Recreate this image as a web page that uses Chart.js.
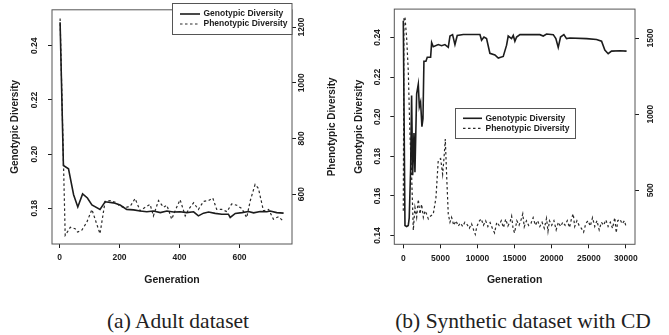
<!DOCTYPE html>
<html>
<head>
<meta charset="utf-8">
<script src="https://cdn.jsdelivr.net/npm/chart.js@4"></script>
<style>
html, body { margin: 0; padding: 0; background: #fff; overflow: hidden; }
#wrap { position: relative; width: 669px; height: 335px; overflow: hidden; }
canvas { position: absolute; top: 0; }
.cap { position: absolute; font-family: "Liberation Serif", serif; font-size: 21.5px; color: #222;
       white-space: nowrap; transform: translateX(-50%); line-height: 1; }
</style>
</head>
<body>
<div id="wrap">
  <canvas id="adultChart" width="340" height="300" style="left:0"></canvas>
  <canvas id="synthChart" width="340" height="300" style="left:340px"></canvas>
  <div class="cap" style="left:178px; top:311px">(a) Adult dataset</div>
  <div class="cap" style="left:523px; top:311px">(b) Synthetic dataset with CD</div>
</div>
<script>
const seriesLabels = ["Genotypic Diversity", "Phenotypic Diversity"];

// (a) Adult dataset
const adultGenoGen = [2, 13, 30, 47, 61, 77, 93, 108, 135, 152,
    180, 202, 224, 247, 269, 291, 313, 336, 358, 380,
    402, 424, 447, 463, 480, 497, 519, 541, 563, 569,
    586, 608, 630, 647, 669, 691, 702, 724, 747];
const adultGeno = [0.2487, 0.1958, 0.1946, 0.1850, 0.1805, 0.1853, 0.1838, 0.1812, 0.1796, 0.1824,
    0.1820, 0.1812, 0.1796, 0.1794, 0.1790, 0.1787, 0.1790, 0.1784, 0.1790, 0.1786,
    0.1787, 0.1784, 0.1787, 0.1772, 0.1782, 0.1786, 0.1781, 0.1778, 0.1778, 0.1766,
    0.1781, 0.1784, 0.1788, 0.1783, 0.1788, 0.1787, 0.1790, 0.1784, 0.1782];
const adultPhenoGen = [2, 19, 36, 52, 60, 74, 91, 108, 124, 135,
    152, 169, 186, 202, 219, 236, 252, 269, 286, 302,
    313, 330, 347, 358, 374, 386, 402, 419, 430, 447,
    463, 480, 497, 511, 524, 541, 558, 574, 591, 608,
    624, 636, 652, 663, 680, 697, 713, 730, 744];
const adultPheno = [1231, 452, 481, 476, 464, 470, 499, 545, 493, 458,
    574, 577, 571, 557, 551, 557, 584, 540, 553, 563,
    522, 577, 553, 560, 510, 542, 580, 522, 545, 569,
    545, 574, 577, 586, 545, 545, 537, 565, 560, 548,
    516, 577, 635, 621, 540, 545, 510, 519, 505];
const adultXTicks = [0, 200, 400, 600];
const adultGenoTicks = [0.18, 0.20, 0.22, 0.24];
const adultPhenoTicks = [600, 800, 1000, 1200];

// (b) Synthetic dataset with CD
const synthGenoGen = [0, 90, 225, 450, 670, 800, 990, 1120, 1260, 1440,
    1570, 1800, 2020, 2160, 2330, 2510, 2650, 2780, 3050, 3230,
    3680, 3820, 4040, 4710, 5160, 5610, 6060, 6290, 6640, 6960,
    7270, 8080, 10330, 10550, 10870, 11220, 11670, 12350, 12800, 13470,
    13920, 14140, 14590, 14820, 15040, 15270, 15720, 16160, 18410, 18860,
    19310, 20210, 20560, 20880, 21190, 21640, 22000, 22450, 24700, 26040,
    26720, 27160, 27610, 28060, 29190, 30090];
const synthGeno = [0.2484, 0.2484, 0.1451, 0.1446, 0.1451, 0.1490, 0.1740, 0.2107, 0.1705, 0.1918,
    0.1720, 0.2115, 0.2164, 0.2050, 0.2074, 0.1950, 0.1990, 0.2280, 0.2280, 0.2300,
    0.2300, 0.2374, 0.2353, 0.2364, 0.2358, 0.2364, 0.2350, 0.2407, 0.2414, 0.2364,
    0.2410, 0.2415, 0.2415, 0.2386, 0.2402, 0.2394, 0.2320, 0.2312, 0.2296, 0.2304,
    0.2361, 0.2407, 0.2394, 0.2410, 0.2381, 0.2402, 0.2414, 0.2414, 0.2414, 0.2407,
    0.2417, 0.2414, 0.2394, 0.2350, 0.2402, 0.2414, 0.2394, 0.2397, 0.2394, 0.2390,
    0.2381, 0.2336, 0.2318, 0.2331, 0.2333, 0.2331];
const synthPhenoGen = [0, 90, 225, 450, 670, 900, 1120, 1350, 1570, 1800,
    2020, 2250, 2470, 2700, 2920, 3140, 3370, 3590, 4040, 4400,
    4710, 5030, 5300, 5480, 5660, 5840, 6060, 6290, 6510, 6800,
    7100, 7400, 7700, 8000, 8300, 8600, 8900, 9200, 9500, 9700,
    9900, 10200, 10500, 10800, 11100, 11400, 11700, 12000, 12300, 12600,
    12900, 13200, 13500, 13800, 14100, 14400, 14600, 14800, 15000, 15300,
    15600, 15900, 16100, 16300, 16600, 16900, 17200, 17500, 17800, 18100,
    18400, 18700, 19000, 19300, 19500, 19700, 20000, 20300, 20600, 20900,
    21200, 21500, 21800, 22100, 22400, 22700, 22900, 23100, 23400, 23700,
    24000, 24300, 24600, 24900, 25200, 25500, 25800, 26100, 26400, 26700,
    27000, 27300, 27600, 27900, 28200, 28500, 28700, 28900, 29200, 29500,
    29800, 30000];
const synthPheno = [365, 1628, 1639, 1500, 1286, 857, 600, 237, 387, 322,
    440, 344, 408, 322, 365, 344, 312, 327, 344, 451,
    697, 708, 605, 708, 836, 600, 344, 290, 322, 270,
    300, 265, 285, 262, 290, 275, 250, 280, 236, 210,
    260, 295, 312, 270, 300, 262, 288, 250, 220, 290,
    270, 300, 255, 310, 265, 295, 330, 245, 220, 300,
    270, 310, 345, 260, 300, 268, 282, 320, 270, 300,
    262, 290, 250, 315, 230, 300, 270, 300, 240, 290,
    262, 290, 270, 300, 255, 320, 345, 262, 300, 268,
    250, 225, 282, 300, 265, 320, 262, 300, 240, 290,
    270, 305, 262, 290, 250, 320, 220, 300, 310, 280,
    300, 265];
const synthXTicks = [0, 5000, 10000, 15000, 20000, 25000, 30000];
const synthGenoTicks = [0.14, 0.16, 0.18, 0.20, 0.22, 0.24];
const synthPhenoTicks = [500, 1000, 1500];

const ink = "#1c1c1c";
Chart.defaults.font.family = "'Liberation Sans', Arial, sans-serif";
Chart.defaults.font.weight = "bold";
Chart.defaults.color = ink;

function points(xs, ys) {
    return xs.map((x, i) => ({ x: x, y: ys[i] }));
}
function fixTicks(values) {
    return scale => { scale.ticks = values.map(v => ({ value: v })); };
}

// R style box, boxed legend and right axis title (reads bottom to top)
const framePlugin = {
    id: "frame",
    afterDraw(chart, args, opts) {
        const ctx = chart.ctx, a = chart.chartArea;
        ctx.save();
        ctx.strokeStyle = "#555";
        ctx.lineWidth = 1;
        ctx.strokeRect(a.left, a.top, a.right - a.left, a.bottom - a.top);

        const L = opts.legend;
        ctx.fillStyle = "#fff";
        ctx.fillRect(L.x, L.y, L.w, L.h);
        ctx.strokeRect(L.x, L.y, L.w, L.h);
        ctx.font = "bold 8.5px 'Liberation Sans'";
        ctx.textBaseline = "middle";
        ctx.textAlign = "left";
        chart.data.datasets.forEach((ds, i) => {
            const y = L.rowY[i];
            ctx.strokeStyle = ds.borderColor;
            ctx.lineWidth = ds.borderWidth;
            ctx.setLineDash(ds.borderDash || []);
            ctx.beginPath();
            ctx.moveTo(L.lineX[0], y);
            ctx.lineTo(L.lineX[1], y);
            ctx.stroke();
            ctx.setLineDash([]);
            ctx.fillStyle = ink;
            ctx.fillText(ds.label, L.textX, y);
        });

        ctx.translate(opts.rightTitleX, (a.top + a.bottom) / 2);
        ctx.rotate(-Math.PI / 2);
        ctx.font = "bold 10px 'Liberation Sans'";
        ctx.textAlign = "center";
        ctx.fillStyle = ink;
        ctx.fillText(chart.scales.y2.options.title.text, 0, 0);
        ctx.restore();
    }
};

function buildChart(id, g) {
    return new Chart(document.getElementById(id), {
        type: "line",
        data: {
            datasets: [{
                label: seriesLabels[0],
                data: points(g.genoGen, g.geno),
                yAxisID: "y",
                borderColor: ink,
                borderWidth: 1.6,
                pointRadius: 0,
                tension: 0
            }, {
                label: seriesLabels[1],
                data: points(g.phenoGen, g.pheno),
                yAxisID: "y2",
                borderColor: "#2a2a2a",
                borderWidth: 1.2,
                borderDash: [2.5, 2.5],
                pointRadius: 0,
                tension: 0
            }]
        },
        options: {
            responsive: false,
            animation: false,
            events: [],
            layout: { padding: { top: g.top, left: 0, right: 0, bottom: 0 } },
            plugins: {
                legend: { display: false },
                tooltip: { enabled: false },
                frame: { legend: g.legend, rightTitleX: g.rightTitleX }
            },
            scales: {
                x: {
                    type: "linear",
                    min: g.xRange[0],
                    max: g.xRange[1],
                    afterBuildTicks: fixTicks(g.xTicks),
                    afterFit: s => { s.height = g.xHeight; },
                    grid: { display: true, drawOnChartArea: false, tickLength: 4, color: ink },
                    border: { display: false },
                    ticks: { font: { size: 8.5 }, padding: 4.9, autoSkip: false, maxRotation: 0,
                             callback: v => String(v) },
                    title: { display: true, text: "Generation", font: { size: 10.5 },
                             padding: { top: 0, bottom: 13.7 } }
                },
                y: {
                    position: "left",
                    min: g.genoRange[0],
                    max: g.genoRange[1],
                    afterBuildTicks: fixTicks(g.genoTicks),
                    afterFit: s => { s.width = g.leftWidth; },
                    grid: { display: true, drawOnChartArea: false, tickLength: 4, color: ink },
                    border: { display: false },
                    ticks: { font: { size: 8.5 }, padding: g.leftPad, autoSkip: false,
                             minRotation: 90, maxRotation: 90, crossAlign: "center",
                             callback: v => v.toFixed(2) },
                    title: { display: true, text: "Genotypic Diversity", font: { size: 10 },
                             padding: { top: g.leftTitlePad, bottom: 0 } }
                },
                y2: {
                    position: "right",
                    min: g.phenoRange[0],
                    max: g.phenoRange[1],
                    afterBuildTicks: fixTicks(g.phenoTicks),
                    afterFit: s => { s.width = g.rightWidth; },
                    grid: { display: true, drawOnChartArea: false, tickLength: 4, color: ink },
                    border: { display: false },
                    ticks: { font: { size: 8.5 }, padding: g.rightPad, autoSkip: false,
                             minRotation: 90, maxRotation: 90, crossAlign: "center",
                             callback: v => String(v) },
                    title: { display: false, text: "Phenotypic Diversity" }
                }
            }
        },
        plugins: [framePlugin]
    });
}

buildChart("adultChart", {
    genoGen: adultGenoGen, geno: adultGeno, phenoGen: adultPhenoGen, pheno: adultPheno,
    xTicks: adultXTicks, genoTicks: adultGenoTicks, phenoTicks: adultPhenoTicks,
    xRange: [-25, 775], genoRange: [0.1668, 0.2533], phenoRange: [421, 1262],
    top: 3, xHeight: 56, leftWidth: 52, rightWidth: 48,
    leftPad: 4.7, rightPad: -3.4, leftTitlePad: 9, rightTitleX: 332,
    legend: { x: 172.5, y: 3.5, w: 119.5, h: 31, rowY: [14, 24], lineX: [180, 200], textX: 203.5 }
});

buildChart("synthChart", {
    genoGen: synthGenoGen, geno: synthGeno, phenoGen: synthPhenoGen, pheno: synthPheno,
    xTicks: synthXTicks, genoTicks: synthGenoTicks, phenoTicks: synthPhenoTicks,
    xRange: [-1213, 31226], genoRange: [0.1356, 0.2543], phenoRange: [145, 1690],
    top: 3.3, xHeight: 55.7, leftWidth: 54.3, rightWidth: 45,
    leftPad: 4, rightPad: 2.2, leftTitlePad: 13, rightTitleX: 335.5,
    legend: { x: 115.5, y: 108.5, w: 120, h: 30, rowY: [118.3, 128.3], lineX: [123, 142], textX: 145.5 }
});
</script>
</body>
</html>
